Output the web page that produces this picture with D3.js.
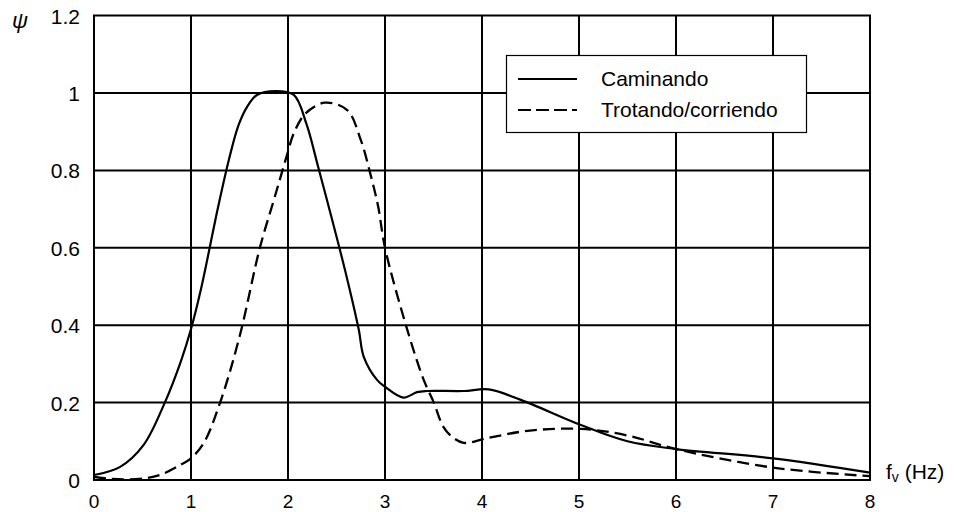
<!DOCTYPE html>
<html>
<head>
<meta charset="utf-8">
<script src="https://cdn.jsdelivr.net/npm/d3@7"></script>
<style>
  body { margin: 0; background: #fff; }
  text { font-family: "Liberation Sans", Arial, sans-serif; fill: #000; }
</style>
</head>
<body>
<script>
// frequency (Hz) and response for each gait
var walkX = [0, 0.27, 0.51, 0.73, 0.9, 1.0, 1.1, 1.28, 1.39, 1.49, 1.58, 1.68, 1.87, 2.06, 2.19, 2.31, 2.42, 2.6, 2.73, 2.78, 2.92, 3.0, 3.19, 3.33, 3.43, 3.81, 4.07, 4.4, 5.02, 5.5, 6.0, 7.0, 8.0];
var walkY = [0.013, 0.034, 0.09, 0.2, 0.31, 0.39, 0.49, 0.706, 0.827, 0.917, 0.965, 0.995, 1.005, 0.995, 0.92, 0.81, 0.706, 0.53, 0.388, 0.319, 0.258, 0.241, 0.213, 0.227, 0.23, 0.23, 0.234, 0.207, 0.142, 0.1, 0.08, 0.056, 0.019];

var runX = [0, 0.17, 0.47, 0.68, 0.89, 0.99, 1.13, 1.3, 1.5, 1.71, 1.85, 1.92, 1.99, 2.06, 2.18, 2.38, 2.61, 2.75, 2.85, 2.93, 3.0, 3.23, 3.4, 3.5, 3.6, 3.69, 3.81, 4.05, 4.47, 5.02, 5.5, 6.0, 7.0, 8.0];
var runY = [0.008, 0.003, 0.003, 0.013, 0.039, 0.054, 0.095, 0.2, 0.37, 0.6, 0.72, 0.78, 0.84, 0.896, 0.947, 0.975, 0.956, 0.879, 0.79, 0.706, 0.6, 0.388, 0.258, 0.202, 0.138, 0.112, 0.096, 0.108, 0.127, 0.132, 0.115, 0.08, 0.032, 0.01];

var xTicks = [0, 1, 2, 3, 4, 5, 6, 7, 8];
var yTicks = [0, 0.2, 0.4, 0.6, 0.8, 1, 1.2];
var seriesNames = ["Caminando", "Trotando/corriendo"];

var width = 954, height = 512;
// plot box (don't call it "top", that's window.top)
var pLeft = 94, pRight = 870, pTop = 15.6, pBottom = 480;

var svg = d3.select("body").append("svg")
    .attr("width", width)
    .attr("height", height);

var x = d3.scaleLinear().domain([0, 8]).range([pLeft, pRight]);
var y = d3.scaleLinear().domain([0, 1.2]).range([pBottom, pTop]);

// grid
svg.append("g").selectAll("line")
    .data(xTicks).enter().append("line")
    .attr("x1", function(d) { return x(d); })
    .attr("x2", function(d) { return x(d); })
    .attr("y1", y(0)).attr("y2", y(1.2))
    .attr("stroke", "#000").attr("stroke-width", 2);
svg.append("g").selectAll("line")
    .data(yTicks).enter().append("line")
    .attr("x1", x(0) - 1).attr("x2", x(8) + 1)
    .attr("y1", function(d) { return y(d); })
    .attr("y2", function(d) { return y(d); })
    .attr("stroke", "#000").attr("stroke-width", 2);

// tick labels
svg.append("g").selectAll("text")
    .data(xTicks).enter().append("text")
    .attr("x", function(d) { return x(d); })
    .attr("y", 508)
    .attr("text-anchor", "middle")
    .attr("font-size", 19)
    .text(function(d) { return d; });
svg.append("g").selectAll("text")
    .data(yTicks).enter().append("text")
    .attr("x", 80)
    .attr("y", function(d) { return y(d) + 8; })
    .attr("text-anchor", "end")
    .attr("font-size", 21)
    .text(function(d) { return d; });

// axis titles
svg.append("text")
    .attr("x", 12).attr("y", 28)
    .attr("font-size", 22)
    .attr("font-style", "italic")
    .attr("font-family", "DejaVu Serif, serif")
    .text("\u03c8");
var fv = svg.append("text")
    .attr("x", 886).attr("y", 479)
    .attr("font-size", 21);
fv.append("tspan").text("f");
fv.append("tspan").attr("font-size", 14).attr("dy", 3).text("v");
fv.append("tspan").attr("dy", -3).text(" (Hz)");

// curves
var line = d3.line()
    .x(function(d) { return x(d[0]); })
    .y(function(d) { return y(d[1]); })
    .curve(d3.curveCatmullRom.alpha(0.5));

svg.append("path")
    .datum(d3.zip(walkX, walkY))
    .attr("d", line)
    .attr("fill", "none")
    .attr("stroke", "#000")
    .attr("stroke-width", 2.2);
svg.append("path")
    .datum(d3.zip(runX, runY))
    .attr("d", line)
    .attr("fill", "none")
    .attr("stroke", "#000")
    .attr("stroke-width", 2.3)
    .attr("stroke-dasharray", "12,6");

// legend
var lg = svg.append("g");
lg.append("rect")
    .attr("x", 506.5).attr("y", 55.5)
    .attr("width", 300).attr("height", 77)
    .attr("fill", "#fff").attr("stroke", "#000").attr("stroke-width", 1.2);
seriesNames.forEach(function(name, i) {
    var ly = 79 + i * 31;
    lg.append("line")
        .attr("x1", 518).attr("x2", 577)
        .attr("y1", ly).attr("y2", ly)
        .attr("stroke", "#000").attr("stroke-width", 2.2)
        .attr("stroke-dasharray", i == 1 ? "13,5" : null);
    lg.append("text")
        .attr("x", 601).attr("y", ly + 7)
        .attr("font-size", 21)
        .text(name);
});
</script>
</body>
</html>
